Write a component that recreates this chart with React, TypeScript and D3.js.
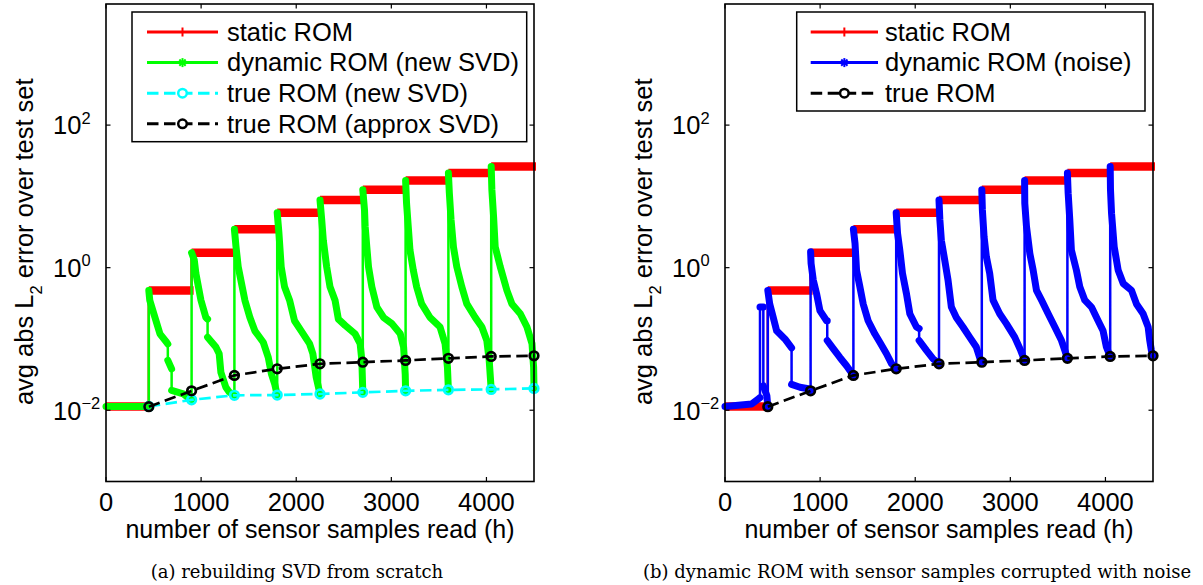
import React from "react";
import * as d3 from "d3";

// ---------------- data ----------------
const X_MAX = 4500;
const Y_MIN = 1e-3;
const Y_MAX = 5000;
const xTicks = [0, 1000, 2000, 3000, 4000];
const yTickExponents = [-2, 0, 2];

// window edges (sensor samples) and static ROM error per window
const windowEdges = [0, 450, 900, 1350, 1800, 2250, 2700, 3150, 3600, 4050, 4500];
const staticRom = [0.0113, 0.48, 1.62, 3.45, 5.9, 8.9, 12.4, 16.7, 21.2, 26.3];

// true ROM series (marker positions)
const trueH = [450, 900, 1350, 1800, 2250, 2700, 3150, 3600, 4050, 4500];
const trueNewSvd = [0.0113, 0.014, 0.0162, 0.0163, 0.0169, 0.0178, 0.0187, 0.0193, 0.0196, 0.0202];
const trueApproxSvd = [0.0112, 0.0187, 0.0308, 0.0381, 0.0448, 0.0472, 0.0499, 0.0535, 0.0568, 0.058];

// dynamic ROM (new SVD) : [h, error]
const dynamicNewSvd: [number, number][] = [
  [0, 0.0113], [450, 0.0113],
  [450, 0.48], [460, 0.35], [515, 0.2], [567, 0.118], [637, 0.09], [650, 0.085], [650, 0.05], [690, 0.038], [690, 0.019], [812, 0.017], [880, 0.0144], [900, 0.014],
  [900, 1.62], [928, 1.28], [945, 0.83], [998, 0.35], [1050, 0.2], [1068, 0.19], [1068, 0.106], [1155, 0.077], [1190, 0.062], [1208, 0.034], [1260, 0.021], [1295, 0.018], [1350, 0.0162],
  [1350, 3.45], [1367, 1.96], [1390, 1.03], [1425, 0.6], [1460, 0.35], [1513, 0.2], [1565, 0.13], [1653, 0.09], [1706, 0.055], [1740, 0.032], [1775, 0.023], [1800, 0.0163],
  [1800, 5.9], [1817, 3.2], [1842, 1.03], [1877, 0.54], [1930, 0.35], [1982, 0.18], [2052, 0.13], [2140, 0.086], [2175, 0.062], [2210, 0.029], [2250, 0.0169],
  [2250, 8.9], [2268, 4.7], [2285, 2.4], [2320, 1.03], [2355, 0.54], [2408, 0.35], [2443, 0.19], [2514, 0.155], [2619, 0.118], [2672, 0.086], [2690, 0.05], [2700, 0.0178],
  [2700, 12.4], [2718, 6.45], [2725, 3.76], [2742, 1.96], [2760, 1.03], [2795, 0.54], [2848, 0.28], [2918, 0.2], [3006, 0.164], [3094, 0.118], [3129, 0.077], [3146, 0.032], [3150, 0.0187],
  [3150, 16.7], [3160, 8.0], [3178, 3.76], [3196, 1.76], [3231, 0.92], [3266, 0.54], [3319, 0.31], [3407, 0.2], [3512, 0.147], [3565, 0.086], [3590, 0.04], [3600, 0.0193],
  [3600, 21.2], [3610, 11.1], [3628, 4.7], [3653, 1.96], [3688, 1.03], [3741, 0.54], [3794, 0.31], [3882, 0.2], [3952, 0.147], [4004, 0.095], [4029, 0.05], [4050, 0.0196],
  [4050, 26.3], [4057, 12.4], [4075, 5.2], [4092, 1.96], [4145, 1.03], [4215, 0.48], [4268, 0.31], [4356, 0.226], [4426, 0.147], [4479, 0.086], [4496, 0.04], [4500, 0.0202],
];

// dynamic ROM (noise) : [h, error]
const dynamicNoise: [number, number][] = [
  [0, 0.0113], [280, 0.0122], [350, 0.0144], [368, 0.015], [368, 0.28], [403, 0.28], [403, 0.022], [440, 0.016], [450, 0.0112],
  [450, 0.48], [470, 0.31], [507, 0.2], [543, 0.13], [630, 0.1], [700, 0.075], [700, 0.023], [788, 0.021], [875, 0.02], [900, 0.0187],
  [900, 1.67], [905, 1.15], [928, 0.67], [963, 0.43], [998, 0.25], [1068, 0.18], [1075, 0.18], [1075, 0.095], [1138, 0.073], [1208, 0.055], [1278, 0.042], [1350, 0.0308],
  [1350, 3.45], [1367, 2.19], [1383, 0.92], [1418, 0.54], [1453, 0.31], [1505, 0.18], [1575, 0.118], [1628, 0.09], [1698, 0.062], [1751, 0.045], [1800, 0.0381],
  [1800, 5.9], [1814, 3.03], [1838, 1.76], [1866, 0.83], [1908, 0.43], [1943, 0.226], [2013, 0.147], [2041, 0.14], [2041, 0.095], [2118, 0.069], [2188, 0.0525], [2250, 0.0448],
  [2250, 8.9], [2259, 4.7], [2275, 2.4], [2310, 1.28], [2345, 0.67], [2380, 0.28], [2432, 0.2], [2502, 0.147], [2572, 0.106], [2642, 0.077], [2677, 0.055], [2700, 0.0472],
  [2700, 12.4], [2706, 6.45], [2724, 2.7], [2748, 1.42], [2783, 0.83], [2818, 0.35], [2888, 0.226], [2958, 0.164], [3046, 0.106], [3109, 0.069], [3150, 0.0499],
  [3150, 16.7], [3152, 8.0], [3170, 3.76], [3205, 1.58], [3240, 0.92], [3275, 0.48], [3328, 0.35], [3398, 0.226], [3468, 0.147], [3538, 0.095], [3573, 0.069], [3600, 0.0535],
  [3600, 21.2], [3608, 11.1], [3625, 4.7], [3642, 1.76], [3695, 0.92], [3730, 0.54], [3783, 0.35], [3853, 0.28], [3923, 0.18], [3975, 0.13], [4010, 0.077], [4050, 0.0568],
  [4050, 26.3], [4053, 12.4], [4064, 5.8], [4092, 1.96], [4134, 0.92], [4187, 0.6], [4274, 0.48], [4326, 0.31], [4396, 0.226], [4449, 0.147], [4466, 0.095], [4483, 0.069], [4500, 0.058],
];

const legendA = ["static ROM", "dynamic ROM (new SVD)", "true ROM (new SVD)", "true ROM (approx SVD)"];
const legendB = ["static ROM", "dynamic ROM (noise)", "true ROM"];
const captionA = "(a) rebuilding SVD from scratch";
const captionB = "(b) dynamic ROM with sensor samples corrupted with noise";

// ---------------- style ----------------
const W = 1203;
const H = 585;
const PLOT_W = 428;
const TOP = 4;
const BOTTOM = 481.5;
const SANS = "'Liberation Sans', Arial, Helvetica, sans-serif";
const SERIF = "'DejaVu Serif', serif";
const FS = 25.5;
const RED = "#ff0000";
const GREEN = "#00ff00";
const BLUE = "#0000ff";
const CYAN = "#00ffff";

type Pt = [number, number];

function runs(pts: Pt[]): Pt[][] {
  const out: Pt[][] = [];
  let cur: Pt[] = [pts[0]];
  for (let i = 1; i < pts.length; i++) {
    if (pts[i][0] === pts[i - 1][0]) {
      if (cur.length > 1) out.push(cur);
      cur = [pts[i]];
    } else cur.push(pts[i]);
  }
  if (cur.length > 1) out.push(cur);
  return out;
}

type LegendItem = { label: string; color: string; dashed: boolean; marker: "plus" | "star" | "circle" };

function Marker({ kind, cx, cy, color }: { kind: string; cx: number; cy: number; color: string }) {
  const s = 4.5;
  if (kind === "plus")
    return (
      <g stroke={color} strokeWidth={2}>
        <line x1={cx - s} x2={cx + s} y1={cy} y2={cy} />
        <line x1={cx} x2={cx} y1={cy - s} y2={cy + s} />
      </g>
    );
  if (kind === "star")
    return (
      <g stroke={color} strokeWidth={2}>
        <line x1={cx - s} x2={cx + s} y1={cy} y2={cy} />
        <line x1={cx} x2={cx} y1={cy - s} y2={cy + s} />
        <line x1={cx - s * 0.7} x2={cx + s * 0.7} y1={cy - s * 0.7} y2={cy + s * 0.7} />
        <line x1={cx - s * 0.7} x2={cx + s * 0.7} y1={cy + s * 0.7} y2={cy - s * 0.7} />
      </g>
    );
  return <circle cx={cx} cy={cy} r={4.3} fill="#fff" stroke={color} strokeWidth={2.5} />;
}

function Panel(props: {
  left: number;
  dyn: Pt[];
  dynColor: string;
  withNewSvd: boolean;
  legend: LegendItem[];
  box: { x: number; y: number; w: number; h: number };
  lineX1: number;
  lineX2: number;
  textX: number;
}) {
  const { left, dyn, dynColor, withNewSvd, legend, box, lineX1, lineX2, textX } = props;
  const right = left + PLOT_W;
  const x = d3.scaleLinear().domain([0, X_MAX]).range([left, right]);
  const y = d3.scaleLog().domain([Y_MIN, Y_MAX]).range([BOTTOM, TOP]);
  const line = d3
    .line<Pt>()
    .x((d) => x(d[0]))
    .y((d) => y(d[1]));

  const staticPts: Pt[] = [];
  staticRom.forEach((v, i) => {
    staticPts.push([windowEdges[i], v]);
    staticPts.push([windowEdges[i + 1], v]);
  });
  const trueNewPts: Pt[] = trueH.map((h, i) => [h, trueNewSvd[i]]);
  const trueApproxPts: Pt[] = trueH.map((h, i) => [h, trueApproxSvd[i]]);

  return (
    <g>
      {/* static ROM */}
      <path d={line(staticPts) || ""} fill="none" stroke={RED} strokeWidth={2.5} />
      {staticRom.map((v, i) => (
        <line
          key={"s" + i}
          x1={x(windowEdges[i])}
          x2={x(windowEdges[i + 1]) + 2}
          y1={y(v)}
          y2={y(v)}
          stroke={RED}
          strokeWidth={8.5}
        />
      ))}
      {/* dynamic ROM */}
      <path d={line(dyn) || ""} fill="none" stroke={dynColor} strokeWidth={2.5} />
      {runs(dyn).map((r, i) => (
        <path
          key={"d" + i}
          d={line(r) || ""}
          fill="none"
          stroke={dynColor}
          strokeWidth={7}
          strokeLinecap="round"
          strokeLinejoin="round"
        />
      ))}
      {/* true ROM new SVD */}
      {withNewSvd && (
        <g>
          <path d={line(trueNewPts) || ""} fill="none" stroke={CYAN} strokeWidth={2.7} strokeDasharray="11.5,5.5" />
          {trueNewPts.map((p, i) => (
            <circle key={"c" + i} cx={x(p[0])} cy={y(p[1])} r={4.3} fill="none" stroke={CYAN} strokeWidth={2.7} />
          ))}
        </g>
      )}
      {/* true ROM approx */}
      <path d={line(trueApproxPts) || ""} fill="none" stroke="#000" strokeWidth={2.7} strokeDasharray="11.5,5.5" />
      {trueApproxPts.map((p, i) => (
        <circle key={"k" + i} cx={x(p[0])} cy={y(p[1])} r={4.3} fill="none" stroke="#000" strokeWidth={2.7} />
      ))}

      {/* axes box */}
      <rect x={left} y={TOP} width={PLOT_W} height={BOTTOM - TOP} fill="none" stroke="#000" strokeWidth={1.6} />
      {xTicks.map((t) => (
        <g key={"xt" + t}>
          <line x1={x(t)} x2={x(t)} y1={BOTTOM} y2={BOTTOM - 4.5} stroke="#000" strokeWidth={1.2} />
          <line x1={x(t)} x2={x(t)} y1={TOP} y2={TOP + 4.5} stroke="#000" strokeWidth={1.2} />
          <text x={x(t)} y={510.5} textAnchor="middle" fontFamily={SANS} fontSize={FS}>
            {t}
          </text>
        </g>
      ))}
      {yTickExponents.map((e) => {
        const yy = y(Math.pow(10, e));
        return (
          <g key={"yt" + e}>
            <line x1={left} x2={left + 4.5} y1={yy} y2={yy} stroke="#000" strokeWidth={1.2} />
            <line x1={right} x2={right - 4.5} y1={yy} y2={yy} stroke="#000" strokeWidth={1.2} />
            <text x={left - 53} y={yy + 9.3} fontFamily={SANS} fontSize={FS}>
              10
              <tspan fontSize={16.5} dy={-10.5}>
                {e < 0 ? "\u2212" + Math.abs(e) : String(e)}
              </tspan>
            </text>
          </g>
        );
      })}
      {/* axis labels */}
      <text x={(left + right) / 2} y={537.5} textAnchor="middle" fontFamily={SANS} fontSize={25}>
        number of sensor samples read (h)
      </text>
      <text
        transform={`translate(${left - 73},${(TOP + BOTTOM) / 2 - 1}) rotate(-90)`}
        textAnchor="middle"
        fontFamily={SANS}
        fontSize={FS}
        style={{ whiteSpace: "pre" }}
      >
        <tspan>avg abs L</tspan>
        <tspan fontSize={16.5} dy={9}>
          2
        </tspan>
        <tspan dy={-9}>{" error over test set"}</tspan>
      </text>

      {/* legend */}
      <rect x={box.x} y={box.y} width={box.w} height={box.h} fill="#fff" stroke="#000" strokeWidth={1.5} />
      {legend.map((it, i) => {
        const cy = 32 + i * 30.6;
        const mid = (lineX1 + lineX2) / 2;
        return (
          <g key={"lg" + i}>
            <line
              x1={lineX1}
              x2={lineX2}
              y1={cy}
              y2={cy}
              stroke={it.color}
              strokeWidth={3}
              strokeDasharray={it.dashed ? "11.5,5.5" : undefined}
            />
            <Marker kind={it.marker} cx={mid} cy={cy} color={it.color} />
            <text x={textX} y={cy + 8.8} fontFamily={SANS} fontSize={FS}>
              {it.label}
            </text>
          </g>
        );
      })}
    </g>
  );
}

export default function App() {
  const itemsA: LegendItem[] = [
    { label: legendA[0], color: RED, dashed: false, marker: "plus" },
    { label: legendA[1], color: GREEN, dashed: false, marker: "star" },
    { label: legendA[2], color: CYAN, dashed: true, marker: "circle" },
    { label: legendA[3], color: "#000", dashed: true, marker: "circle" },
  ];
  const itemsB: LegendItem[] = [
    { label: legendB[0], color: RED, dashed: false, marker: "plus" },
    { label: legendB[1], color: BLUE, dashed: false, marker: "star" },
    { label: legendB[2], color: "#000", dashed: true, marker: "circle" },
  ];
  return (
    <svg
      width={W}
      height={H}
      viewBox={`0 0 ${W} ${H}`}
      style={{ position: "absolute", left: 0, top: 0, display: "block", background: "#fff" }}
    >
      <rect x={0} y={0} width={W} height={H} fill="#fff" />
      <Panel
        left={106}
        dyn={dynamicNewSvd}
        dynColor={GREEN}
        withNewSvd={true}
        legend={itemsA}
        box={{ x: 132, y: 12, w: 394.7, h: 129.7 }}
        lineX1={147}
        lineX2={218}
        textX={227}
      />
      <Panel
        left={725}
        dyn={dynamicNoise}
        dynColor={BLUE}
        withNewSvd={false}
        legend={itemsB}
        box={{ x: 796.7, y: 12, w: 348.3, h: 99 }}
        lineX1={810.7}
        lineX2={878}
        textX={885}
      />
      <text x={297} y={577.5} textAnchor="middle" fontFamily={SERIF} fontSize={18}>
        {captionA}
      </text>
      <text x={917} y={577.5} textAnchor="middle" fontFamily={SERIF} fontSize={18}>
        {captionB}
      </text>
    </svg>
  );
}
